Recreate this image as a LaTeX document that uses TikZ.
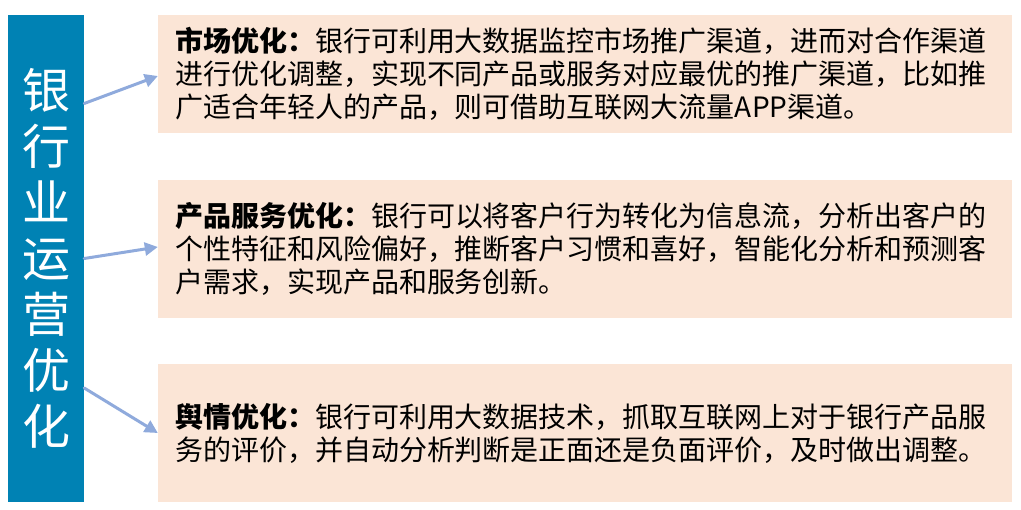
\documentclass[tikz,border=0pt]{standalone}
\usepackage{fontspec}
\setmainfont{Noto Sans CJK SC}
\usetikzlibrary{arrows.meta}

\begin{document}
\begin{tikzpicture}[x=1pt,y=-1pt,line cap=round,line join=round]
\definecolor{bankblue}{RGB}{0,130,180}
\definecolor{peach}{RGB}{251,229,214}
\definecolor{arrowblue}{RGB}{143,170,220}
  \tikzset{
    infobox/.style={fill=peach, inner xsep=17pt, inner ysep=0pt,
      text width=820pt, align=left,
      font=\fontsize{28pt}{33pt}\selectfont},
    pointer/.style={draw=arrowblue, line width=3pt,
      -{Triangle[length=13pt,width=13pt]}}
  }
  \useasboundingbox (0,0) rectangle (1021,510);

  % left column
  \node[fill=bankblue, minimum width=76pt, minimum height=487pt,
    inner sep=0pt, text=white, align=center,
    font=\fontsize{48pt}{56pt}\selectfont] (side) at (46,258.5)
    {银\\行\\业\\运\\营\\优\\化};

  % the three boxes
  \node[infobox, minimum height=118pt] (market) at (585,74)
    {\textbf{市场优化：}银行可利用大数据监控市场推广渠道，进而对合作渠道\\
     进行优化调整，实现不同产品或服务对应最优的推广渠道，比如推\\
     广适合年轻人的产品，则可借助互联网大流量APP渠道。};
  \node[infobox, minimum height=138pt] (product) at (585,249)
    {\textbf{产品服务优化：}银行可以将客户行为转化为信息流，分析出客户的\\
     个性特征和风险偏好，推断客户习惯和喜好，智能化分析和预测客\\
     户需求，实现产品和服务创新。};
  \node[infobox, minimum height=138pt] (opinion) at (585,433)
    {\textbf{舆情优化：}银行可利用大数据技术，抓取互联网上对于银行产品服\\
     务的评价，并自动分析判断是正面还是负面评价，及时做出调整。};

  % arrows
  \draw[pointer] ([yshift=155pt]side.east) -- ([yshift=-2pt]market.west);
  \draw[pointer] (side.east) -- ([yshift=2pt]product.west);
  \draw[pointer] ([yshift=-129.5pt]side.east) -- (opinion.west);

\end{tikzpicture}
\end{document}
